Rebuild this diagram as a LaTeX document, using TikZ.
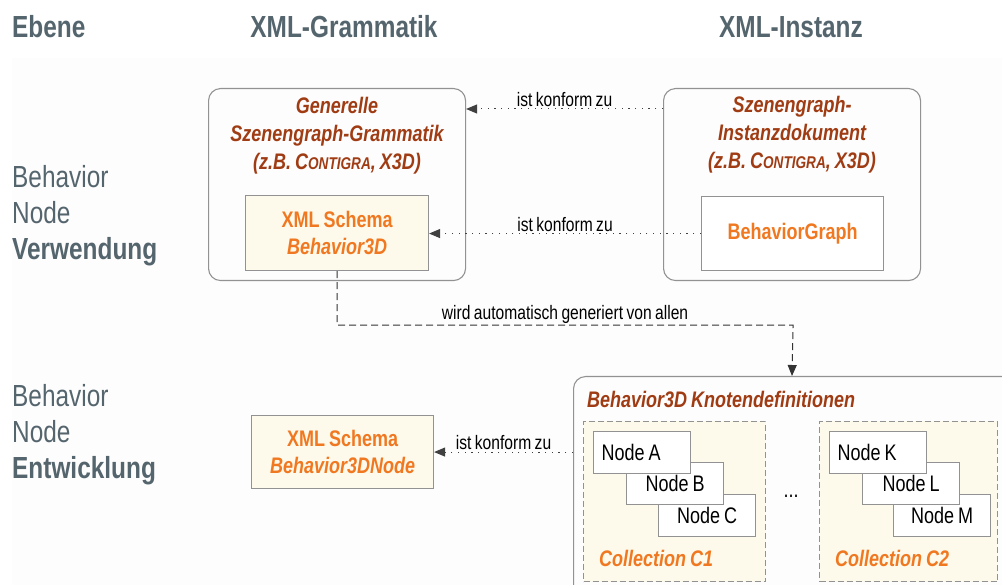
\documentclass[tikz,border=0pt]{standalone}
\usepackage{fontspec}
\setmainfont[FakeStretch=0.8,WordSpace=0.8]{Liberation Sans}
\usetikzlibrary{arrows.meta,calc}

\definecolor{slate}{HTML}{55656E}
\definecolor{rust}{HTML}{A03C14}
\definecolor{amber}{HTML}{F07820}
\definecolor{cream}{HTML}{FDF9EB}
\definecolor{rim}{HTML}{929292}
\definecolor{band}{HTML}{FDFDFD}

% faked small capitals for the product name
\newcommand\fakesc[1]{{\fontsize{17}{17}\selectfont #1}}
% left-set label inside a node box
\newcommand\leftset[1]{\makebox[81pt][l]{#1}}

\begin{document}
\begin{tikzpicture}[x=1pt,y=-1pt,
  panel/.style={draw=rim, line width=1.1pt, rounded corners=12pt, anchor=north west, inner sep=0pt},
  schemabox/.style={draw=rim, fill=cream, line width=1.1pt, anchor=north west, inner sep=0pt},
  plainbox/.style={draw=rim, fill=white, line width=1.1pt, anchor=north west, inner sep=0pt},
  collbox/.style={draw=rim, fill=cream, line width=1pt, dash pattern=on 6pt off 3pt, anchor=north west, inner sep=0pt},
  item/.style={draw=rim, fill=white, line width=1.1pt, anchor=north west, minimum width=97pt, minimum height=42pt, inner sep=0pt, font=\fontsize{22.5}{24}\selectfont},
  head/.style={text=slate, font=\fontsize{30.5}{34}\selectfont\bfseries},
  level/.style={text=slate, font=\fontsize{30.5}{36}\selectfont, align=left, anchor=west, inner sep=0pt},
  title/.style={text=rust, font=\fontsize{22.5}{28}\selectfont\bfseries\itshape, align=center},
  schematext/.style={text=amber, font=\fontsize{22.5}{27}\selectfont\bfseries, align=center},
  colltext/.style={text=amber, font=\fontsize{22.5}{27}\selectfont\bfseries\itshape, anchor=west, inner sep=0pt},
  note/.style={font=\fontsize{19.5}{22}\selectfont, inner sep=1.5pt},
  conform/.style={draw=black!75, line width=1pt, dash pattern=on 1.2pt off 5.5pt,
    -{Triangle[length=11pt,width=9pt]}},
  derived/.style={draw=black!80, line width=1pt, dash pattern=on 7pt off 4pt,
    -{Triangle[length=11pt,width=9pt]}}
]
\useasboundingbox (0,0) rectangle (1002,585);
\begin{scope}
\clip (0,0) rectangle (1002,585);
\fill[band] (12,58) rectangle (1002,585);

% column and row headings
\node[head, anchor=west, inner sep=0pt] (hlevel) at (12,27) {Ebene};
\node[head] (hgram) at (344,27) {XML-Grammatik};
\node[head] (hinst) at (791,27) {XML-Instanz};
\node[level] (use) at (12,216) {Behavior\\Node\\\textbf{Verwendung}};
\node[level] (dev) at (12,435) {Behavior\\Node\\\textbf{Entwicklung}};

% upper row: grammar and instance document
\node[panel, minimum width=257pt, minimum height=192pt] (gram) at (208,88) {};
\node[title] (gtitle) at (337,136) {Generelle\\Szenengraph-Grammatik\\(z.B. C\fakesc{ONTIGRA}, X3D)};
\node[schemabox, minimum width=183pt, minimum height=75pt] (schema) at (245,195) {};
\node[schematext] (schematxt) at (schema.center) {XML Schema\\\textit{Behavior3D}};

\node[panel, minimum width=257pt, minimum height=192pt] (inst) at (663,88) {};
\node[title] (ititle) at (792,135) {Szenengraph-\\Instanzdokument\\(z.B. C\fakesc{ONTIGRA}, X3D)};
\node[plainbox, minimum width=182pt, minimum height=74pt] (bgraph) at (701,196) {};
\node[schematext] (bgraphtxt) at (bgraph.center) {BehaviorGraph};

% lower row: node schema and node definitions
\node[schemabox, minimum width=182pt, minimum height=73pt] (nschema) at (251,415) {};
\node[schematext] (nschematxt) at (nschema.center) {XML Schema\\\textit{Behavior3DNode}};

\node[panel, minimum width=460pt, minimum height=240pt] (knot) at (573,376) {};
\node[title, anchor=west, inner sep=0pt] (ktitle) at (587,399) {Behavior3D Knotendefinitionen};

\node[collbox, minimum width=182pt, minimum height=160pt] (c1) at (583,421) {};
\node[collbox, minimum width=178pt, minimum height=160pt] (c2) at (819,421) {};

\node[item] (nc) at (658,494) {Node C};
\node[item] (nb) at (626,462) {Node B};
\node[item, inner xsep=8pt] (na) at (593,431) {\leftset{Node A}};
\node[item] (nm) at (893,494) {Node M};
\node[item] (nl) at (862,462) {Node L};
\node[item, inner xsep=8pt] (nk) at (829,431) {\leftset{Node K}};

\node[font=\fontsize{22.5}{24}\selectfont] (dots) at (791,496) {...};
\node[colltext] (c1txt) at (599,558) {Collection C1};
\node[colltext] (c2txt) at (835,558) {Collection C2};

% connectors
\draw[conform] ([yshift=-21pt]inst.north west) -- node[note, above] {ist konform zu} ([yshift=-21pt]gram.north east);
\draw[conform] (bgraph.west) -- node[note, above] {ist konform zu} (schema.east |- bgraph.west);
\draw[conform] (knot.west |- nschema.east) -- node[note, above] {ist konform zu} (nschema.east);
\draw[derived] (schema.south) -- ++(0,54)
  -- node[note, above] {wird automatisch generiert von allen} ++(456,0)
  -- ([xshift=219pt]knot.north west);
\end{scope}
\end{tikzpicture}
\end{document}
